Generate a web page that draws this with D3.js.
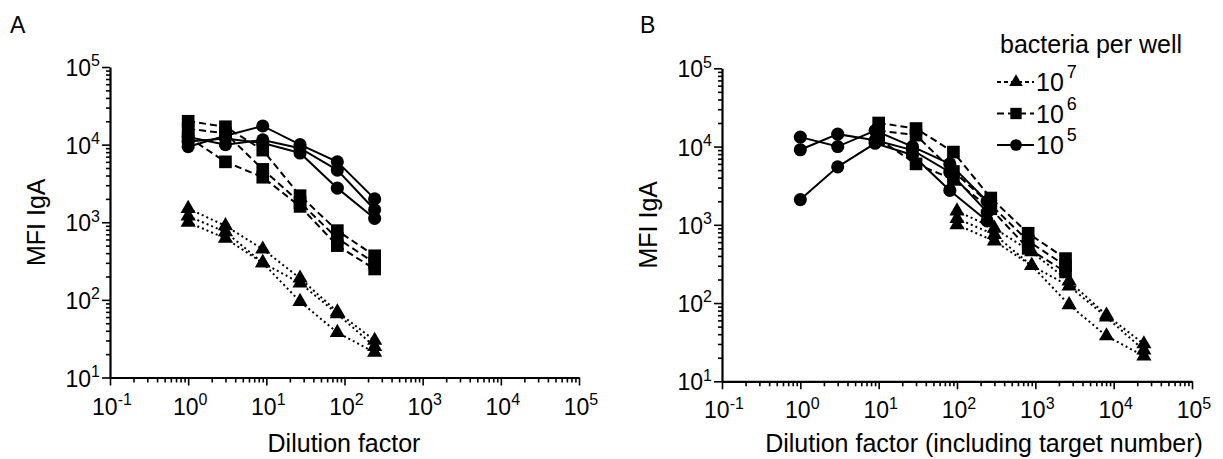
<!DOCTYPE html>
<html>
<head>
<meta charset="utf-8">
<script src="https://cdn.jsdelivr.net/npm/d3@7"></script>
<style>
  body { margin: 0; background: #fff; }
  text { font-family: Arial, "Liberation Sans", sans-serif; fill: #000; }
</style>
</head>
<body>
<svg id="chart" width="1223" height="459"></svg>
<script>
// dilution steps (threefold)
const dilution = [1, 3, 9, 27, 81, 243];
// panel B: dilution x target number (10^5 = 1)
const dilutionB5 = [1, 3, 9, 27, 81, 243];
const dilutionB6 = [10, 30, 90, 270, 810, 2430];
const dilutionB7 = [100, 300, 900, 2700, 8100, 24300];

// 10^7 bacteria per well (triangles)
const tri1 = [1500, 900, 450, 190, 70, 30];
const tri2 = [1200, 750, 300, 165, 66, 25];
const tri3 = [1000, 620, 300, 95, 38, 21];
// 10^6 bacteria per well (squares)
const sq1 = [20000, 17000, 8500, 2200, 780, 370];
const sq2 = [16000, 14000, 4800, 1800, 620, 300];
const sq3 = [12500, 6000, 3800, 1600, 500, 250];
// 10^5 bacteria per well (circles), panel A
const circA1 = [9400, 13000, 17400, 10000, 6000, 2000];
const circA2 = [12500, 10000, 11500, 9000, 4700, 1450];
const circA3 = [11000, 12000, 10500, 7800, 2750, 1120];
// 10^5 bacteria per well (circles), panel B
const circB1 = [13200, 10000, 16000, 10000, 6000, 2000];
const circB2 = [9100, 14400, 12000, 9000, 4700, 1450];
const circB3 = [2100, 5500, 11000, 7800, 2750, 1120];

const xExp = [-1, 0, 1, 2, 3, 4, 5];
const yExp = [1, 2, 3, 4, 5];
const legendLabels = ['7', '6', '5'];

const svg = d3.select('#chart');

const styles = {
  tri: { symbol: d3.symbolTriangle, size: 100, dash: '2,3' },
  sq: { symbol: d3.symbolSquare, size: 160, dash: '7,4' },
  circ: { symbol: d3.symbolCircle, size: 135, dash: null }
};

function minorTicks(lo, hi) {
  const out = [];
  for (let e = lo; e < hi; e++) {
    for (let k = 2; k <= 9; k++) out.push(k * Math.pow(10, e));
  }
  return out;
}

function supLabel(g, x, y, base, sup, anchor, size, supSize) {
  const t = g.append('text')
    .attr('x', x).attr('y', y)
    .attr('text-anchor', anchor)
    .attr('font-size', size);
  t.append('tspan').text(base);
  t.append('tspan').attr('font-size', supSize).attr('dy', -size * 0.42).text(sup);
  return t;
}

function drawPanel(p) {
  const x = d3.scaleLog().domain([0.1, 1e5]).range([p.left, p.right]);
  const y = d3.scaleLog().domain([10, 1e5]).range([p.bottom, p.top]);
  const g = svg.append('g');

  // minor ticks
  g.append('g').attr('transform', `translate(0,${p.bottom})`)
    .call(d3.axisBottom(x).tickValues(minorTicks(-1, 5)).tickSize(5).tickSizeOuter(0).tickFormat(''))
    .call(a => a.select('.domain').remove());
  g.append('g').attr('transform', `translate(${p.left},0)`)
    .call(d3.axisLeft(y).tickValues(minorTicks(1, 5)).tickSize(4).tickSizeOuter(0).tickFormat(''))
    .call(a => a.select('.domain').remove());
  // major ticks + domain
  g.append('g').attr('transform', `translate(0,${p.bottom})`)
    .call(d3.axisBottom(x).tickValues(xExp.map(e => Math.pow(10, e))).tickSize(8).tickSizeOuter(0).tickFormat(''));
  g.append('g').attr('transform', `translate(${p.left},0)`)
    .call(d3.axisLeft(y).tickValues(yExp.map(e => Math.pow(10, e))).tickSize(8).tickSizeOuter(0).tickFormat(''));
  g.selectAll('.domain').attr('stroke', '#000').attr('stroke-width', 2.2);
  g.selectAll('.tick line').attr('stroke', '#000').attr('stroke-width', 1.6);

  // tick labels
  xExp.forEach(e => supLabel(g, x(Math.pow(10, e)) + 2, p.bottom + 37, '10', String(e), 'middle', 23, 16));
  yExp.forEach(e => supLabel(g, p.left - 10, y(Math.pow(10, e)) + 9, '10', String(e), 'end', 23, 16));

  // axis titles
  g.append('text')
    .attr('transform', `translate(${p.left - 65},${(p.top + p.bottom) / 2}) rotate(-90)`)
    .attr('text-anchor', 'middle').attr('font-size', 25).text('MFI IgA');
  g.append('text')
    .attr('x', p.titleX).attr('y', 452)
    .attr('text-anchor', 'middle').attr('font-size', 25).text(p.xTitle);
  g.append('text')
    .attr('x', p.letterX).attr('y', 33).attr('font-size', 23).text(p.letter);

  const line = d3.line().x(d => x(d[0])).y(d => y(d[1]));
  p.series.forEach(s => {
    const st = styles[s.kind];
    const pts = s.xs.map((v, i) => [v, s.ys[i]]);
    g.append('path')
      .attr('d', line(pts))
      .attr('fill', 'none').attr('stroke', '#000').attr('stroke-width', 2)
      .attr('stroke-dasharray', st.dash);
  });
  p.series.forEach(s => {
    const st = styles[s.kind];
    g.selectAll(null).data(s.xs.map((v, i) => [v, s.ys[i]])).join('path')
      .attr('transform', d => `translate(${x(d[0])},${y(d[1])})`)
      .attr('d', d3.symbol(st.symbol, st.size))
      .attr('fill', '#000');
  });
}

drawPanel({
  left: 110, right: 579, top: 67, bottom: 377.5,
  letter: 'A', letterX: 10, titleX: 344, xTitle: 'Dilution factor',
  series: [
    { kind: 'tri', xs: dilution, ys: tri1 }, { kind: 'tri', xs: dilution, ys: tri2 }, { kind: 'tri', xs: dilution, ys: tri3 },
    { kind: 'sq', xs: dilution, ys: sq1 }, { kind: 'sq', xs: dilution, ys: sq2 }, { kind: 'sq', xs: dilution, ys: sq3 },
    { kind: 'circ', xs: dilution, ys: circA1 }, { kind: 'circ', xs: dilution, ys: circA2 }, { kind: 'circ', xs: dilution, ys: circA3 }
  ]
});

drawPanel({
  left: 722, right: 1192, top: 68.3, bottom: 381.3,
  letter: 'B', letterX: 640, titleX: 984, xTitle: 'Dilution factor (including target number)',
  series: [
    { kind: 'tri', xs: dilutionB7, ys: tri1 }, { kind: 'tri', xs: dilutionB7, ys: tri2 }, { kind: 'tri', xs: dilutionB7, ys: tri3 },
    { kind: 'sq', xs: dilutionB6, ys: sq1 }, { kind: 'sq', xs: dilutionB6, ys: sq2 }, { kind: 'sq', xs: dilutionB6, ys: sq3 },
    { kind: 'circ', xs: dilutionB5, ys: circB1 }, { kind: 'circ', xs: dilutionB5, ys: circB2 }, { kind: 'circ', xs: dilutionB5, ys: circB3 }
  ]
});

// legend
const lg = svg.append('g');
lg.append('text').attr('x', 1000).attr('y', 53).attr('font-size', 25).text('bacteria per well');
['tri', 'sq', 'circ'].forEach((k, i) => {
  const cy = 82 + i * 31.5;
  const st = styles[k];
  lg.append('line').attr('x1', 997).attr('x2', 1034).attr('y1', cy).attr('y2', cy)
    .attr('stroke', '#000').attr('stroke-width', 2)
    .attr('stroke-dasharray', k === 'tri' ? '4,3' : st.dash);
  lg.append('path').attr('transform', `translate(1016,${cy})`)
    .attr('d', d3.symbol(st.symbol, st.size * 0.8)).attr('fill', '#000');
  const t = lg.append('text').attr('x', 1036).attr('y', cy + 9).attr('font-size', 25);
  t.append('tspan').text('10');
  t.append('tspan').attr('font-size', 18).attr('dx', 3).attr('dy', -13).text(legendLabels[i]);
});
</script>
</body>
</html>
